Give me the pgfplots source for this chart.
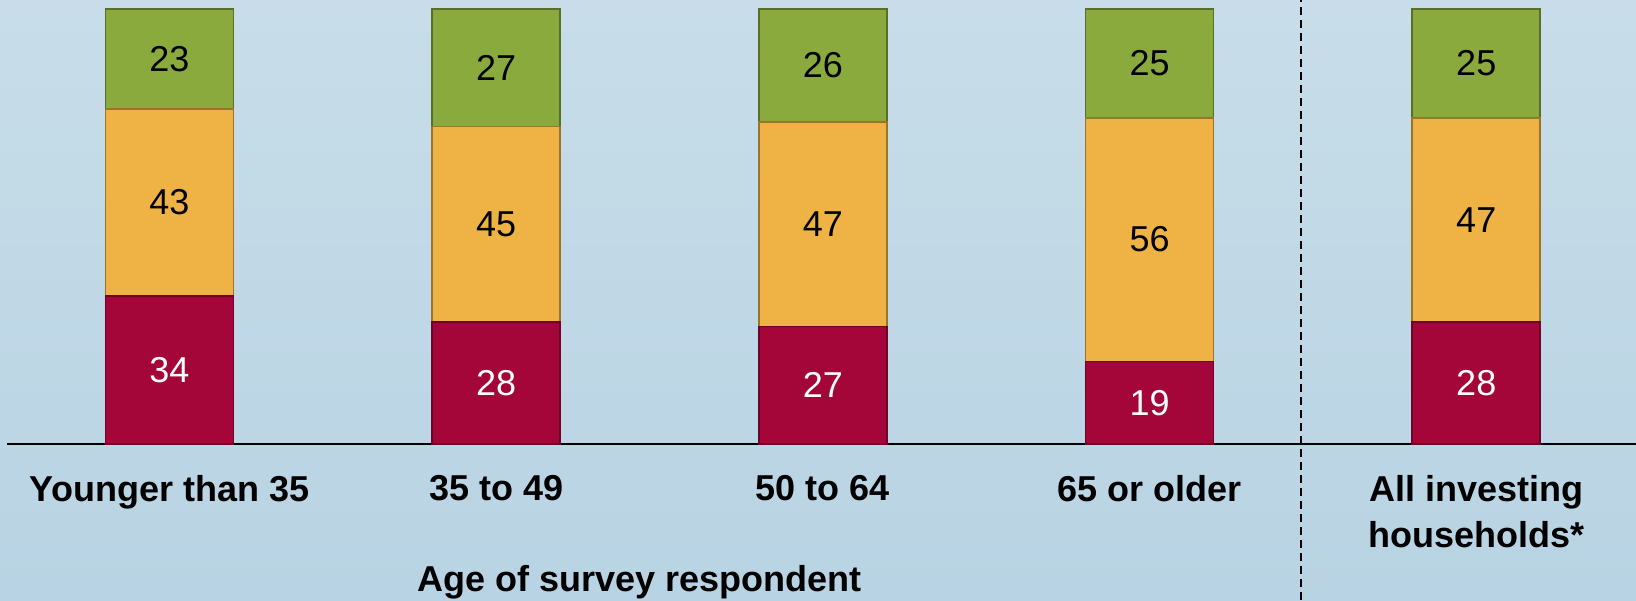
\documentclass[border=0pt]{standalone}
\usepackage{pgfplots}
\pgfplotsset{compat=1.18}
\usepackage{pgfplotstable}
\usepackage{fontspec}
\setmainfont{Liberation Sans}

\definecolor{bgtop}{RGB}{200,221,233}
\definecolor{bgbot}{RGB}{184,211,227}
\definecolor{barred}{RGB}{165,6,58}
\definecolor{barorange}{RGB}{238,179,68}
\definecolor{bargreen}{RGB}{139,170,62}

% share of each age group, bottom to top
\pgfplotstableread{
x red orange green
0 34 43 23
1 28 45 27
2 27 47 26
3 19 56 25
4 28 47 25
}\shares

\begin{document}
\begin{tikzpicture}
  \shade[top color=bgtop, bottom color=bgbot] (0,0) rectangle (818pt,300pt);
  \useasboundingbox (0,0) rectangle (818pt,300pt);
  \begin{axis}[
      at={(3.5pt,78pt)}, anchor=south west,
      scale only axis,
      width=814.5pt, height=217.5pt,
      xmin=-0.497, xmax=4.489,
      ymin=0, ymax=100,
      ybar stacked, bar width=64pt,
      axis x line=bottom, axis y line=none,
      axis line style={-, black, line width=0.7pt},
      xtick={0,...,4}, ytick=\empty,
      major tick length=0pt,
      xticklabels={Younger than 35, 35 to 49, 50 to 64, 65 or older, {All investing\\households*}},
      xticklabel style={font=\bfseries\fontsize{18}{23}\selectfont, align=center, anchor=north, yshift=-12pt},
      xlabel={Age of survey respondent},
      xlabel style={at={(axis cs:1.44,0)}, anchor=base, yshift=-73.5pt, font=\bfseries\fontsize{18}{22}\selectfont},
      clip=false,
      /pgf/number format/assume math mode=true,
      nodes near coords,
      point meta=explicit,
      every node near coord/.append style={anchor=center, font=\fontsize{18}{20}\selectfont},
    ]
    \addplot [fill=barred, draw=barred!65!black, line width=0.8pt,
      every node near coord/.append style={text=white}]
      table [x=x, y=red, meta=red] {\shares};
    \addplot [fill=barorange, draw=barorange!65!black, line width=0.8pt]
      table [x=x, y=orange, meta=orange] {\shares};
    \addplot [fill=bargreen, draw=bargreen!65!black, line width=0.8pt]
      table [x=x, y=green, meta=green] {\shares};
  \end{axis}
  \draw [black, line width=0.8pt, dash pattern=on 4pt off 2.5pt] (650.5pt,0) -- (650.5pt,300pt);
\end{tikzpicture}
\end{document}
